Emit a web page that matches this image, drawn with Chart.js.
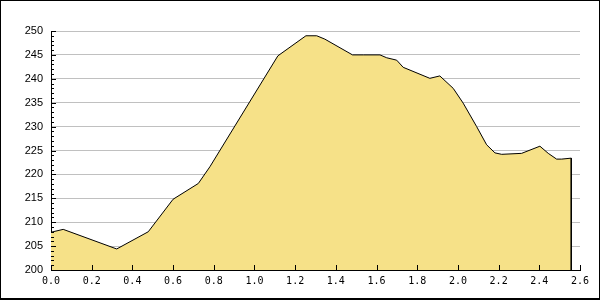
<!DOCTYPE html>
<html>
<head>
<meta charset="utf-8">
<script src="https://cdn.jsdelivr.net/npm/chart.js@4"></script>
<style>
  body { margin: 0; background: #fff; }
  canvas { display: block; }
</style>
</head>
<body>
<canvas id="chart" width="600" height="300"></canvas>
<script>
// ---- Data ----
const xValues = [0.0, 0.06, 0.323, 0.478, 0.60, 0.724, 0.781, 1.115, 1.253, 1.306, 1.346, 1.482, 1.535,
    1.617, 1.65, 1.699, 1.731, 1.862, 1.911, 1.977, 2.026, 2.092, 2.141, 2.182, 2.215, 2.313,
    2.403, 2.444, 2.485, 2.51, 2.557, 2.557];
const yValues = [207.9, 208.5, 204.4, 208.0, 214.8, 218.1, 221.6, 244.8, 249.0, 249.0, 248.3, 245.0, 245.0,
    245.0, 244.4, 243.9, 242.4, 240.1, 240.6, 238.0, 234.9, 230.0, 226.2, 224.5, 224.2, 224.4,
    225.9, 224.4, 223.2, 223.2, 223.4, 200.0];
const yRange = [200, 250];
const xRange = [0, 2.6];

// ---- Ticks on the inside of the axes + frame ----
const insideTicks = {
    id: 'insideTicks',
    beforeDraw: (chart) => {
        const ctx = chart.ctx;
        ctx.save();
        ctx.fillStyle = '#fff';
        ctx.fillRect(0, 0, chart.width, chart.height);
        ctx.restore();
    },
    afterDatasetsDraw: (chart) => {
        const { ctx, chartArea, scales: { x, y } } = chart;
        ctx.save();
        ctx.strokeStyle = '#000';
        ctx.lineWidth = 1;
        ctx.beginPath();
        // y: minor every 1, major every 5
        for (let v = yRange[0]; v <= yRange[1]; v++) {
            const py = Math.round(y.getPixelForValue(v)) + 0.5;
            const len = v % 5 === 0 ? 5 : 3;
            ctx.moveTo(chartArea.left, py);
            ctx.lineTo(chartArea.left + len, py);
        }
        // x: major only
        x.ticks.forEach(t => {
            const px = Math.round(x.getPixelForValue(t.value)) + 0.5;
            ctx.moveTo(px, chartArea.bottom);
            ctx.lineTo(px, chartArea.bottom - 5);
        });
        ctx.stroke();
        ctx.restore();
    },
    afterDraw: (chart) => {
        const ctx = chart.ctx;
        ctx.save();
        ctx.strokeStyle = '#000';
        ctx.lineWidth = 1;
        ctx.strokeRect(0.5, 0.5, chart.width - 1, chart.height - 1);
        ctx.beginPath();
        ctx.moveTo(0, chart.height - 1.5);
        ctx.lineTo(chart.width, chart.height - 1.5);
        ctx.stroke();
        ctx.restore();
    }
};

// ---- Config ----
const points = xValues.map((v, i) => ({ x: v, y: yValues[i] }));

const config = {
    type: 'line',
    data: {
        datasets: [{
            data: points,
            borderColor: '#000',
            borderWidth: 1,
            backgroundColor: '#F6E188',
            fill: 'start',
            pointRadius: 0,
            tension: 0
        }]
    },
    options: {
        responsive: false,
        animation: false,
        layout: { padding: { top: 31, right: 20, left: 0, bottom: 0 } },
        plugins: {
            legend: { display: false },
            tooltip: { enabled: false }
        },
        scales: {
            x: {
                type: 'linear',
                min: xRange[0],
                max: xRange[1],
                afterFit: (scale) => { scale.height = 30; },
                grid: { display: false, drawTicks: false },
                border: { display: true, color: '#000', width: 1 },
                ticks: {
                    stepSize: 0.2,
                    padding: 5,
                    color: '#000',
                    maxRotation: 0,
                    font: { family: 'DejaVu Sans Mono', size: 10 },
                    callback: (v) => Number(v).toFixed(1)
                }
            },
            y: {
                min: yRange[0],
                max: yRange[1],
                afterFit: (scale) => { scale.width = 51; },
                grid: {
                    drawTicks: false,
                    color: '#C0C0C0',
                    lineWidth: 1
                },
                border: { display: true, color: '#000', width: 1 },
                ticks: {
                    stepSize: 5,
                    padding: 8,
                    color: '#000',
                    font: { family: 'Liberation Sans', size: 11 }
                }
            }
        }
    },
    plugins: [insideTicks]
};

// ---- Create chart ----
const ctx = document.getElementById('chart').getContext('2d');
const chart = new Chart(ctx, config);
</script>
</body>
</html>
